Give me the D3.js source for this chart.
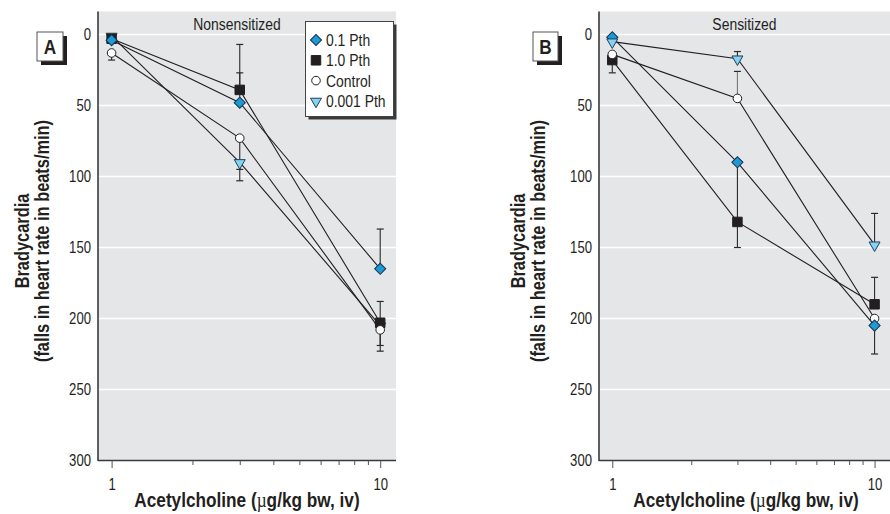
<!DOCTYPE html>
<html>
<head>
<meta charset="utf-8">
<script src="https://cdn.jsdelivr.net/npm/d3@7"></script>
<style>
  body { margin: 0; background: #fff; }
  svg text { font-family: "Liberation Sans", Arial, sans-serif; fill: #231f20; }
</style>
</head>
<body>
<svg id="chart" width="890" height="514"></svg>
<script>
// Acetylcholine doses (µg/kg bw, iv)
const doses = [1, 3, 10];
const seriesNames = ["0.1 Pth", "1.0 Pth", "Control", "0.001 Pth"];
const yTicks = [0, 50, 100, 150, 200, 250, 300];
const xTickLabels = [1, 10];

// Panel A: nonsensitized — mean bradycardia (beats/min)
const pth01A   = [4, 48, 165];
const pth10A   = [3, 39, 203];
const controlA = [13, 73, 208];
const pth0001A = [1, 90, 205];
// error bar end values per dose
const pth01A_err   = [[], [27], [137]];
const pth10A_err   = [[], [7], [188, 219]];
const controlA_err = [[18], [103], [223]];
const pth0001A_err = [[], [95], []];

// Panel B: sensitized
const pth01B   = [2, 90, 205];
const pth10B   = [18, 132, 190];
const controlB = [14, 45, 200];
const pth0001B = [5, 17, 148];
const pth01B_err   = [[], [132], [225]];
const pth10B_err   = [[27], [150], [171]];
const controlB_err = [[], [26], []];
const pth0001B_err = [[], [12], [126]];

const svg = d3.select("#chart");
const ink = "#231f20";
const K = 0.82; // horizontal condensing for the condensed typeface look

// squeeze a single-line text horizontally around its own anchor point
function condense(sel, k = K) {
  sel.each(function () {
    const x = +(this.getAttribute("x") || 0);
    const prev = this.getAttribute("transform") || "";
    this.setAttribute("transform", `${prev} translate(${x},0) scale(${k},1) translate(${-x},0)`);
  });
}

const styles = {
  "0.1 Pth":   { type: "diamond",  fill: "#1b9ad6", stroke: "#17324a" },
  "1.0 Pth":   { type: "square",   fill: "#231f20", stroke: "#231f20" },
  "Control":   { type: "circle",   fill: "#ffffff", stroke: "#231f20" },
  "0.001 Pth": { type: "triangle", fill: "#86d2f0", stroke: "#1d3f5c" }
};

function markerPath(type) {
  if (type === "diamond") return d3.symbol(d3.symbolSquare, 62)();
  if (type === "square") return d3.symbol(d3.symbolSquare, 90)();
  if (type === "circle") return d3.symbol(d3.symbolCircle, 58)();
  return d3.symbol(d3.symbolTriangle, 52)();
}
function markerTransform(type, x, y) {
  if (type === "diamond") return `translate(${x},${y}) rotate(45)`;
  if (type === "triangle") return `translate(${x},${y + 0.5}) rotate(180)`;
  return `translate(${x},${y})`;
}

function drawPanel(cfg) {
  const { left, right, top, bottom, series, title, label, labelBox, yTitleX } = cfg;
  const x = d3.scaleLog().domain([0.89, 11.45]).range([left, right]);
  const y = d3.scaleLinear().domain([-16.2, 300]).range([top, bottom]);
  const g = svg.append("g");

  g.append("rect").attr("x", left).attr("y", top)
    .attr("width", right - left).attr("height", bottom - top).attr("fill", "#e5e6e8");

  g.append("g").selectAll("line").data(yTicks.slice(0, -1)).join("line")
    .attr("x1", left).attr("x2", right)
    .attr("y1", d => y(d)).attr("y2", d => y(d))
    .attr("stroke", "#fff").attr("stroke-width", 1.3);

  // y axis: labels only, plus the left frame line
  const ya = g.append("g").attr("transform", `translate(${left},0)`)
    .call(d3.axisLeft(y).tickValues(yTicks).tickSize(0).tickPadding(7).tickFormat(d3.format("d")));
  ya.select(".domain").remove();
  ya.selectAll("text").style("font-size", "16px").attr("fill", ink).call(condense);
  g.append("line").attr("x1", left).attr("x2", left).attr("y1", top).attr("y2", bottom + 0.5)
    .attr("stroke", "#3a3a3a").attr("stroke-width", 1.6);

  // x axis on a log scale
  const xa = g.append("g").attr("transform", `translate(0,${bottom})`)
    .call(d3.axisBottom(x).tickValues(d3.range(1, 11)).tickSizeOuter(0).tickPadding(12)
      .tickFormat(d => xTickLabels.includes(d) ? d : ""));
  xa.select(".domain").attr("d", `M${left},0H${right}`).attr("stroke", "#3a3a3a").attr("stroke-width", 1.6);
  xa.selectAll(".tick line").attr("stroke", "#555")
    .attr("y2", d => xTickLabels.includes(d) ? 7.5 : 4.5);
  xa.selectAll("text").style("font-size", "16px").attr("fill", ink).call(condense);

  // subtitle
  g.append("text").attr("x", (left + right) / 2 - (cfg.titleShift || 0)).attr("y", 30.5)
    .attr("text-anchor", "middle").style("font-size", "17px").text(title).call(condense);

  // connecting lines
  const line = d3.line().x((d, i) => x(doses[i])).y(d => y(d));
  series.forEach(s => {
    g.append("path").attr("d", line(s.values)).attr("fill", "none")
      .attr("stroke", ink).attr("stroke-width", 1.1);
  });

  // error bars
  series.forEach(s => {
    s.err.forEach((ends, i) => {
      ends.forEach(e => {
        const cx = x(doses[i]);
        g.append("line").attr("x1", cx).attr("x2", cx)
          .attr("y1", y(s.values[i])).attr("y2", y(e))
          .attr("stroke", s.errColor || "#2a2a2a").attr("stroke-width", 1.1);
        g.append("line").attr("x1", cx - 3.5).attr("x2", cx + 3.5)
          .attr("y1", y(e)).attr("y2", y(e))
          .attr("stroke", "#2a2a2a").attr("stroke-width", 1.2);
      });
    });
  });

  // markers
  cfg.drawOrder.forEach(idx => {
    const s = series[idx];
    const st = styles[s.name];
    s.values.forEach((v, i) => {
      g.append("path").attr("d", markerPath(st.type))
        .attr("transform", markerTransform(st.type, x(doses[i]), y(v)))
        .attr("fill", st.fill).attr("stroke", st.stroke).attr("stroke-width", 1);
    });
  });

  // panel letter box with drop shadow
  const b = labelBox;
  g.append("rect").attr("x", b.x + 4).attr("y", b.y + 4).attr("width", b.w).attr("height", b.h).attr("fill", ink);
  g.append("rect").attr("x", b.x).attr("y", b.y).attr("width", b.w).attr("height", b.h)
    .attr("fill", "#fff").attr("stroke", "#555").attr("stroke-width", 1);
  g.append("text").attr("x", b.x + b.w / 2).attr("y", b.y + b.h / 2 + 7.5)
    .attr("text-anchor", "middle").style("font-size", "21px").style("font-weight", "bold")
    .text(label).call(condense);

  // axis titles
  const tx = g.append("text").attr("x", cfg.xTitleX).attr("y", 507)
    .attr("text-anchor", "middle").style("font-size", "21px").style("font-weight", "bold");
  tx.append("tspan").text("Acetylcholine (");
  tx.append("tspan").style("font-family", "'Liberation Serif', serif").style("font-weight", "normal").text("\u00b5");
  tx.append("tspan").text("g/kg bw, iv)");
  tx.call(condense);

  [["Bradycardia", 0], ["(falls in heart rate in beats/min)", 19.5]].forEach(([t, off]) => {
    g.append("text")
      .attr("transform", `translate(${yTitleX + off},241) rotate(-90) scale(${K},1)`)
      .attr("text-anchor", "middle").style("font-size", "20px").style("font-weight", "bold")
      .text(t);
  });
  return { x, y };
}

const seriesA = [
  { name: seriesNames[0], values: pth01A, err: pth01A_err },
  { name: seriesNames[1], values: pth10A, err: pth10A_err },
  { name: seriesNames[2], values: controlA, err: controlA_err },
  { name: seriesNames[3], values: pth0001A, err: pth0001A_err }
];
const seriesB = [
  { name: seriesNames[0], values: pth01B, err: pth01B_err },
  { name: seriesNames[1], values: pth10B, err: pth10B_err },
  { name: seriesNames[2], values: controlB, err: controlB_err, errColor: "#777" },
  { name: seriesNames[3], values: pth0001B, err: pth0001B_err }
];

drawPanel({
  left: 98, right: 396, top: 11.5, bottom: 460.5,
  series: seriesA, title: "Nonsensitized", titleShift: 10, label: "A",
  labelBox: { x: 37, y: 32, w: 26, h: 29 }, yTitleX: 29, xTitleX: 247,
  drawOrder: [3, 1, 2, 0]
});
drawPanel({
  left: 599, right: 890, top: 11.5, bottom: 460.5,
  series: seriesB, title: "Sensitized", titleShift: 0, label: "B",
  labelBox: { x: 533, y: 32, w: 25, h: 29 }, yTitleX: 525, xTitleX: 746,
  drawOrder: [1, 2, 0, 3]
});

// legend for panel A
const leg = svg.append("g");
leg.append("rect").attr("x", 308.5).attr("y", 24.5).attr("width", 88).attr("height", 95).attr("fill", "#3a3a3a");
leg.append("rect").attr("x", 305.5).attr("y", 21.5).attr("width", 88).attr("height", 95)
  .attr("fill", "#fff").attr("stroke", "#444").attr("stroke-width", 1);
seriesNames.forEach((name, i) => {
  const st = styles[name];
  const cy = 40 + i * 20.3;
  leg.append("path").attr("d", markerPath(st.type))
    .attr("transform", markerTransform(st.type, 316, cy))
    .attr("fill", st.fill).attr("stroke", st.stroke).attr("stroke-width", 1);
  leg.append("text").attr("x", 326).attr("y", cy + 6).style("font-size", "17px").text(name).call(condense);
});
</script>
</body>
</html>
